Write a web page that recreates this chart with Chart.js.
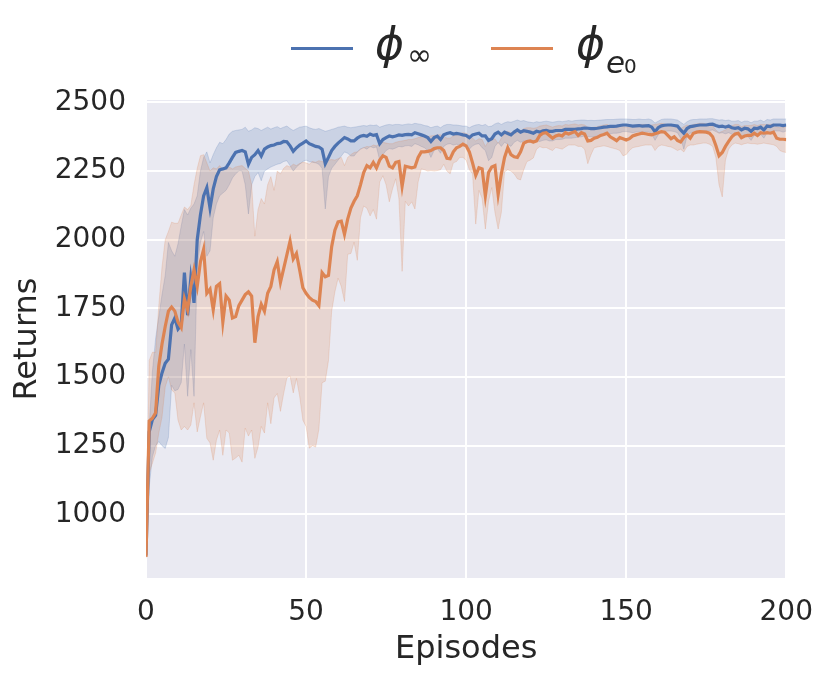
<!DOCTYPE html>
<html>
<head>
<meta charset="utf-8">
<script src="https://cdn.jsdelivr.net/npm/chart.js@4.4.1/dist/chart.umd.min.js"></script>
<style>
  body { margin: 0; background: #fff; }
  #wrap { position: relative; width: 831px; height: 679px; }
  .swatch { position: absolute; top: 46.5px; width: 62px; height: 3px; }
  .lab { position: absolute; font-family: 'DejaVu Sans'; line-height: 1; color: #262626; font-style: italic; white-space: nowrap; }
</style>
</head>
<body>
<div id="wrap">
  <canvas id="myChart" width="831" height="679"></canvas>
  <div class="swatch" style="left:291px;background:#4C72B0"></div>
  <div class="lab" style="left:375px;top:22px;font-size:44px">ϕ</div>
  <div class="lab" style="left:407px;top:40px;font-size:30px;font-style:normal">∞</div>
  <div class="swatch" style="left:491px;background:#DD8452"></div>
  <div class="lab" style="left:576px;top:22px;font-size:44px">ϕ</div>
  <div class="lab" style="left:606px;top:47px;font-size:31px">e</div>
  <div class="lab" style="left:624px;top:56px;font-size:20px;font-style:normal">0</div>
</div>
<script>
// data
const episodes = Array.from({ length: 201 }, (_, i) => i);
const xTicks = [0, 50, 100, 150, 200];
const yTicks = [1000, 1250, 1500, 1750, 2000, 2250, 2500];

// phi_inf
const blueMean = [
  850,1300,1345,1360,1470,1515,1550,1565,1690,1715,
  1675,1690,1880,1725,1860,1770,2000,2090,2160,2190,
  2115,2185,2230,2255,2258,2262,2280,2300,2318,2322,
  2325,2320,2275,2300,2310,2325,2305,2330,2338,2343,
  2345,2350,2352,2358,2357,2342,2322,2335,2345,2352,
  2360,2350,2345,2340,2338,2330,2277,2300,2325,2340,
  2352,2362,2372,2367,2360,2360,2370,2377,2380,2377,
  2385,2380,2383,2350,2365,2372,2378,2375,2378,2382,
  2380,2383,2384,2382,2390,2386,2382,2378,2372,2358,
  2372,2377,2365,2382,2387,2390,2385,2387,2385,2382,
  2380,2372,2382,2385,2388,2378,2378,2362,2368,2385,
  2392,2382,2392,2387,2382,2392,2400,2392,2397,2395,
  2392,2388,2395,2392,2397,2398,2395,2395,2398,2398,
  2398,2402,2402,2402,2402,2404,2405,2407,2406,2405,
  2405,2406,2408,2410,2411,2413,2413,2414,2416,2418,
  2418,2416,2414,2415,2416,2414,2415,2416,2410,2393,
  2408,2415,2417,2418,2418,2416,2414,2400,2388,2405,
  2412,2414,2416,2418,2418,2418,2420,2421,2416,2412,
  2414,2410,2414,2408,2406,2408,2400,2406,2404,2395,
  2406,2405,2410,2400,2414,2412,2418,2418,2418,2416,
  2418
];
const blueHigh = [
  855,1320,1520,1640,1720,1800,1870,1990,1960,1940,
  1985,2050,2110,2090,2115,2130,2160,2250,2300,2320,
  2280,2310,2335,2355,2350,2365,2385,2395,2398,2400,
  2402,2410,2395,2400,2408,2405,2398,2404,2410,2403,
  2408,2412,2405,2410,2414,2405,2398,2404,2410,2412,
  2414,2408,2404,2402,2405,2400,2395,2398,2402,2405,
  2410,2412,2414,2410,2408,2410,2412,2414,2416,2414,
  2418,2416,2418,2410,2414,2418,2420,2418,2420,2420,
  2418,2420,2422,2420,2424,2422,2420,2416,2414,2408,
  2412,2414,2408,2416,2420,2420,2418,2418,2416,2414,
  2414,2408,2414,2418,2420,2416,2420,2412,2414,2422,
  2426,2420,2426,2430,2428,2432,2436,2432,2434,2430,
  2428,2426,2430,2428,2430,2432,2430,2428,2430,2432,
  2430,2432,2434,2432,2434,2435,2436,2436,2434,2435,
  2434,2435,2436,2437,2438,2438,2438,2439,2440,2440,
  2440,2439,2438,2438,2440,2438,2438,2440,2436,2425,
  2432,2438,2440,2440,2440,2438,2436,2428,2420,2430,
  2436,2438,2438,2440,2440,2440,2441,2441,2438,2436,
  2437,2434,2436,2432,2432,2434,2428,2432,2432,2426,
  2432,2432,2436,2430,2438,2436,2440,2440,2440,2440,
  2440
];
const blueLow = [
  845,1100,1210,1250,1265,1250,1240,1280,1470,1450,
  1455,1480,1620,1430,1600,1430,1900,1990,2030,1940,
  1960,2080,2130,2160,2170,2180,2200,2225,2240,2250,
  2250,2200,2094,2200,2230,2245,2215,2250,2258,2265,
  2270,2275,2278,2285,2288,2270,2250,2265,2275,2285,
  2290,2285,2282,2280,2275,2260,2112,2230,2260,2275,
  2290,2305,2320,2315,2305,2305,2320,2330,2336,2330,
  2340,2335,2338,2290,2310,2325,2332,2330,2334,2340,
  2338,2342,2343,2340,2350,2346,2340,2335,2325,2300,
  2325,2332,2315,2340,2348,2350,2345,2348,2345,2342,
  2340,2330,2342,2348,2350,2335,2325,2288,2300,2340,
  2355,2340,2355,2348,2340,2355,2362,2355,2360,2358,
  2355,2352,2360,2358,2362,2364,2360,2360,2365,2365,
  2366,2370,2370,2370,2372,2374,2375,2378,2376,2375,
  2376,2378,2380,2382,2384,2386,2388,2388,2390,2394,
  2394,2392,2390,2392,2394,2392,2392,2394,2385,2362,
  2382,2392,2394,2396,2396,2394,2390,2370,2330,2378,
  2388,2390,2394,2396,2396,2396,2398,2400,2394,2388,
  2390,2386,2390,2384,2380,2382,2372,2380,2376,2362,
  2380,2378,2384,2370,2390,2388,2396,2396,2396,2392,
  2396
];

// phi_e0
const orangeMean = [
  845,1340,1350,1370,1540,1620,1684,1740,1755,1740,
  1700,1680,1785,1745,1830,1890,1830,1920,1965,1805,
  1820,1745,1830,1840,1700,1795,1780,1715,1720,1760,
  1780,1800,1810,1795,1625,1720,1765,1740,1805,1830,
  1890,1920,1845,1895,1945,1995,1930,1950,1890,1825,
  1805,1790,1780,1775,1760,1880,1865,1870,1975,2035,
  2065,2068,2020,2075,2115,2140,2160,2200,2245,2270,
  2262,2282,2262,2290,2306,2300,2268,2262,2282,2285,
  2195,2268,2265,2262,2265,2300,2320,2320,2322,2325,
  2332,2335,2335,2325,2297,2295,2320,2335,2340,2348,
  2342,2320,2280,2235,2262,2258,2160,2245,2265,2270,
  2165,2240,2300,2335,2310,2302,2300,2320,2352,2358,
  2360,2356,2360,2380,2388,2390,2380,2370,2378,2382,
  2378,2390,2385,2390,2394,2380,2390,2385,2360,2362,
  2370,2373,2380,2383,2388,2375,2368,2361,2372,2368,
  2363,2368,2378,2382,2385,2388,2386,2384,2382,2386,
  2390,2394,2392,2380,2368,2375,2362,2356,2372,2382,
  2370,2388,2392,2394,2393,2392,2388,2375,2343,2306,
  2318,2340,2358,2375,2385,2388,2372,2378,2380,2380,
  2388,2380,2390,2388,2390,2388,2392,2370,2366,2366,
  2365
];
const orangeHigh = [
  850,1560,1590,1590,1760,1900,2000,2030,2064,2060,
  2060,2090,2119,2110,2125,2200,2260,2306,2310,2280,
  2250,2262,2258,2270,2255,2262,2265,2258,2265,2268,
  2270,2260,2250,2200,2013,2110,2150,2130,2200,2230,
  2180,2250,2240,2260,2270,2265,2275,2270,2278,2282,
  2280,2275,2285,2282,2288,2285,2282,2290,2292,2290,
  2295,2300,2270,2300,2310,2318,2320,2330,2335,2340,
  2338,2345,2342,2350,2355,2352,2350,2350,2355,2358,
  2360,2362,2365,2365,2368,2372,2375,2375,2376,2378,
  2380,2382,2382,2378,2370,2370,2378,2382,2385,2390,
  2388,2380,2370,2360,2368,2365,2340,2360,2365,2368,
  2350,2370,2385,2395,2390,2388,2390,2395,2405,2408,
  2408,2406,2408,2414,2416,2418,2414,2410,2414,2416,
  2414,2420,2418,2420,2422,2418,2420,2418,2410,2408,
  2410,2412,2415,2418,2420,2415,2410,2408,2414,2412,
  2410,2412,2416,2418,2420,2420,2420,2418,2418,2420,
  2422,2424,2422,2418,2412,2416,2408,2405,2412,2418,
  2414,2420,2422,2424,2424,2422,2420,2414,2400,2390,
  2395,2400,2408,2415,2420,2420,2412,2416,2416,2416,
  2420,2416,2420,2420,2420,2420,2422,2412,2408,2410,
  2410
];
const orangeLow = [
  840,1150,1186,1223,1296,1354,1464,1501,1453,1442,
  1343,1307,1320,1307,1325,1406,1300,1355,1406,1277,
  1260,1197,1270,1307,1215,1307,1296,1197,1205,1215,
  1190,1314,1285,1307,1204,1245,1320,1296,1406,1330,
  1424,1440,1375,1440,1497,1504,1442,1495,1430,1343,
  1320,1241,1250,1245,1310,1479,1485,1560,1740,1810,
  1860,1830,1775,1947,1950,1991,1925,2080,2123,2115,
  2087,2110,2075,2210,2233,2200,2138,2185,2222,2150,
  1885,2140,2123,2138,2112,2210,2258,2255,2250,2252,
  2250,2252,2255,2275,2250,2240,2280,2285,2300,2300,
  2290,2255,2240,2057,2180,2150,2039,2140,2190,2100,
  2039,2100,2247,2255,2250,2240,2222,2218,2255,2285,
  2290,2298,2330,2339,2335,2336,2330,2325,2336,2333,
  2330,2338,2345,2345,2345,2340,2340,2330,2277,2310,
  2335,2338,2340,2342,2340,2336,2333,2330,2325,2306,
  2310,2325,2335,2338,2340,2343,2345,2345,2345,2325,
  2340,2345,2343,2340,2338,2332,2325,2330,2320,2340,
  2345,2345,2348,2350,2352,2352,2348,2340,2300,2200,
  2156,2290,2330,2345,2352,2350,2346,2350,2352,2350,
  2350,2348,2350,2352,2350,2348,2346,2340,2325,2320,
  2318
];

const BLUE = '#4C72B0';
const ORANGE = '#DD8452';
const BLUE_BAND = 'rgba(76,114,176,0.2)';
const ORANGE_BAND = 'rgba(221,132,82,0.2)';
const TEXT = '#262626';

const plotBg = {
  id: 'plotBg',
  beforeDraw(chart) {
    const a = chart.chartArea;
    const c = chart.ctx;
    c.save();
    c.fillStyle = '#EAEAF2';
    c.fillRect(a.left, a.top, a.right - a.left, a.bottom - a.top);
    c.restore();
  }
};

function line(data, color) {
  return { data: data, borderColor: color, borderWidth: 3.2, pointRadius: 0, fill: false, tension: 0 };
}
function band(data, color, target) {
  return { data: data, borderColor: color, backgroundColor: color, borderWidth: 1, pointRadius: 0, fill: target, tension: 0 };
}

const ctx = document.getElementById('myChart');
const chart = new Chart(ctx, {
  type: 'line',
  data: {
    labels: episodes,
    datasets: [
      line(orangeMean, ORANGE),            // 0, drawn last
      line(blueMean, BLUE),                // 1
      band(orangeLow, ORANGE_BAND, 3),     // 2
      band(orangeHigh, ORANGE_BAND, false),// 3
      band(blueLow, BLUE_BAND, 5),         // 4
      band(blueHigh, BLUE_BAND, false)     // 5, drawn first
    ]
  },
  options: {
    responsive: false,
    animation: false,
    layout: { padding: { top: 100, right: 42, left: 0, bottom: 0 } },
    plugins: { legend: { display: false }, tooltip: { enabled: false } },
    scales: {
      x: {
        type: 'linear',
        min: 0,
        max: 200,
        afterBuildTicks: s => { s.ticks = xTicks.map(v => ({ value: v })); },
        afterFit: s => { s.height = 101; },
        grid: { color: '#ffffff', lineWidth: 2, drawTicks: false },
        border: { display: false },
        ticks: { color: TEXT, font: { family: 'DejaVu Sans', size: 28 }, padding: 18, maxRotation: 0, callback: v => String(v) },
        title: { display: true, text: 'Episodes', color: TEXT, font: { family: 'DejaVu Sans', size: 32 }, padding: { top: 0, bottom: 10 } }
      },
      y: {
        min: 768,
        max: 2509,
        afterBuildTicks: s => { s.ticks = yTicks.map(v => ({ value: v })); },
        afterFit: s => { s.width = 146; },
        grid: { color: '#ffffff', lineWidth: 2, drawTicks: false },
        border: { display: false },
        ticks: { color: TEXT, font: { family: 'DejaVu Sans', size: 28 }, padding: 20, callback: v => String(v) },
        title: { display: true, text: 'Returns', color: TEXT, font: { family: 'DejaVu Sans', size: 32 }, padding: { top: 8, bottom: 0 } }
      }
    }
  },
  plugins: [plotBg]
});
</script>
</body>
</html>
